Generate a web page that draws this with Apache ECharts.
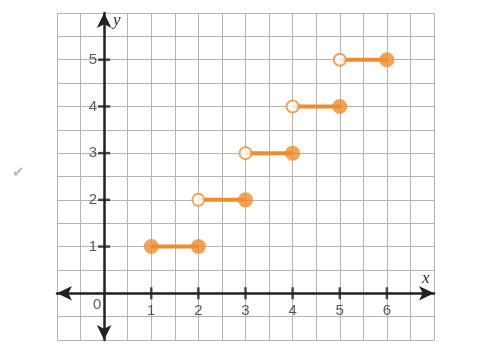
<!DOCTYPE html>
<html><head><meta charset="utf-8">
<script src="https://cdn.jsdelivr.net/npm/echarts@6/dist/echarts.min.js"></script>
<style>html,body{margin:0;padding:0;background:#fff}#c{width:480px;height:350px}</style>
</head><body><div id="c"></div>
<script>
const segStart = [1, 2, 3, 4, 5];
const segEnd = [2, 3, 4, 5, 6];
const segY = [1, 2, 3, 4, 5];
const startClosed = [true, false, false, false, false];
const endClosed = [true, true, true, true, true];
const xTicks = [1, 2, 3, 4, 5, 6];
const yTicks = [1, 2, 3, 4, 5];

const ORANGE = '#F08C2A';
const FONT = 'Liberation Sans, Arial, sans-serif';
const chart = echarts.init(document.getElementById('c'));
const series = [];
segStart.forEach((s, i) => {
  series.push({type: 'line', data: [[s, segY[i]], [segEnd[i], segY[i]]], showSymbol: false,
    lineStyle: {color: ORANGE, width: 4}, z: 3, silent: true});
});
const closed = [], open = [];
segStart.forEach((s, i) => {
  (startClosed[i] ? closed : open).push([s, segY[i]]);
  (endClosed[i] ? closed : open).push([segEnd[i], segY[i]]);
});
series.push({type: 'scatter', data: xTicks.map(v => [v, 0]), symbol: 'rect', symbolSize: [2.5, 12],
  itemStyle: {color: '#222'}, z: 2, silent: true,
  label: {show: true, position: 'bottom', distance: 4, fontSize: 15, color: '#333', fontFamily: FONT,
    formatter: p => String(p.value[0])}});
series.push({type: 'scatter', data: yTicks.map(v => [0, v]), symbol: 'rect', symbolSize: [12, 2.5],
  itemStyle: {color: '#222'}, z: 2, silent: true,
  label: {show: true, position: 'left', distance: 1, fontSize: 15, color: '#333', fontFamily: FONT,
    formatter: p => String(p.value[1])}});
series.push({type: 'scatter', data: [[0, 0]], symbol: 'circle', symbolSize: 2, z: 1, silent: true,
  itemStyle: {color: 'rgba(0,0,0,0)'},
  label: {show: true, position: 'inside', offset: [-7, 12], fontSize: 15, color: '#333', fontFamily: FONT,
    formatter: '0'}});
series.push({type: 'scatter', data: closed, symbol: 'circle', symbolSize: 15,
  itemStyle: {color: ORANGE}, z: 5, silent: true});
series.push({type: 'scatter', data: open, symbol: 'circle', symbolSize: 12,
  itemStyle: {color: '#fff', borderColor: ORANGE, borderWidth: 2}, z: 5, silent: true});

const axisCommon = {
  type: 'value', interval: 1,
  splitLine: {show: true, lineStyle: {color: '#b4b4b4', width: 1}},
  minorSplitLine: {show: true, lineStyle: {color: '#b4b4b4', width: 1}},
  axisTick: {show: false},
  axisLabel: {show: false},
  axisLine: {onZero: true, symbol: ['arrow', 'arrow'], symbolSize: [11, 15], lineStyle: {color: '#222', width: 2.5}}
};
chart.setOption({
  animation: false,
  grid: {left: 57, top: 13, right: 46, bottom: 10, containLabel: false, outerBoundsMode: 'none'},
  xAxis: Object.assign({}, axisCommon, {min: -1, max: 7, minorTick: {show: false, splitNumber: 2}}),
  yAxis: Object.assign({}, axisCommon, {min: -1, max: 6, minorTick: {show: false, splitNumber: 2}}),
  graphic: [
    {type: 'text', left: 113, top: 12, style: {text: 'y', font: 'italic 17px "Liberation Serif", serif', fill: '#333'}},
    {type: 'text', left: 422, top: 270, style: {text: 'x', font: 'italic 17px "Liberation Serif", serif', fill: '#333'}},
    {type: 'text', left: 12, top: 166, style: {text: '✔', font: '15px "DejaVu Sans"', fill: '#bdbdbd'}}
  ],
  series: series
});
</script></body></html>
